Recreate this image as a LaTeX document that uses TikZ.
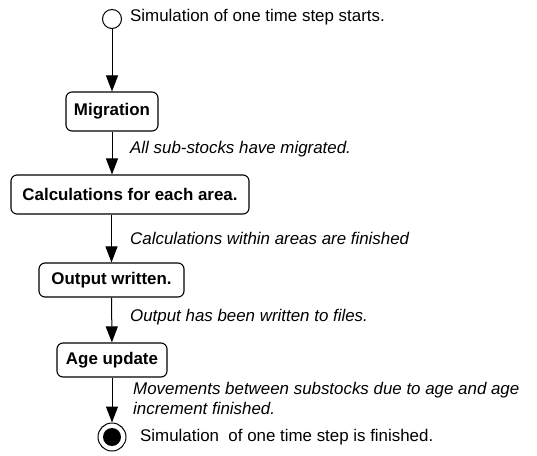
\documentclass[tikz,border=0pt]{standalone}
\usepackage{fontspec}
\setmainfont{Liberation Sans}
\usepackage{tikz}
\usetikzlibrary{arrows.meta}
\usetikzlibrary{calc}
\newcommand{\ADFont}{\fontsize{16.9}{20}\selectfont}
\newcommand{\ADFlowX}{112}
\newcommand{\ADGuardX}{130}
\newcommand{\ADState}[5]{
  \node[adstate, minimum width=#3, minimum height=#4] (#1) at #2 {#5};
}
\newcommand{\ADGuard}[2]{
  \node[adguard] at (\ADGuardX,#1) {#2};
}
\newcommand{\ADFlow}[2]{
  \draw[adflow] (#1) -- (#2);
}
\tikzset{
  adstate/.style={draw, rounded corners=6pt, line width=1.1pt, font=\ADFont\bfseries,
    inner sep=0pt},
  adguard/.style={anchor=west, font=\ADFont\itshape, inner sep=0pt},
  adflow/.style={line width=1pt, -{Triangle[length=16pt,width=12pt]}},
}

\begin{document}
\begin{tikzpicture}[x=1pt, y=-1pt, font=\ADFont]
\useasboundingbox (0,0) rectangle (537,455);

\node[draw, circle, line width=1pt, minimum size=19pt, inner sep=0pt] (start) at (\ADFlowX,19) {};
\node[anchor=west, inner sep=0pt] (startlbl) at (130,17) {Simulation of one time step starts.};

\ADState{migration}{(\ADFlowX,111.5)}{92pt}{39pt}{Migration}
\ADState{calc}{(130,194.5)}{238pt}{39pt}{Calculations for each area.}
\ADState{output}{(111.5,280)}{145pt}{34pt}{Output written.}
\ADState{age}{(\ADFlowX,360)}{110pt}{34pt}{Age update}

\node[draw, circle, line width=1pt, minimum size=28pt, inner sep=0pt] (finish) at (\ADFlowX,437) {};
\fill (finish) circle (9pt);
\node[anchor=west, inner sep=0pt] (finishlbl) at (140,437) {Simulation\ \ of one time step is finished.};

\ADFlow{start}{migration}
\ADFlow{migration.south}{migration.south |- calc.north}
\ADFlow{output.north |- calc.south}{output.north}
\ADFlow{output}{age}
\ADFlow{age}{finish}

\ADGuard{149}{All sub-stocks have migrated.}
\ADGuard{238}{Calculations within areas are finished}
\ADGuard{317}{Output has been written to files.}
\node[adguard, align=left] at (133,398) {Movements between substocks due to age and age\\increment finished.};
\end{tikzpicture}
\end{document}
